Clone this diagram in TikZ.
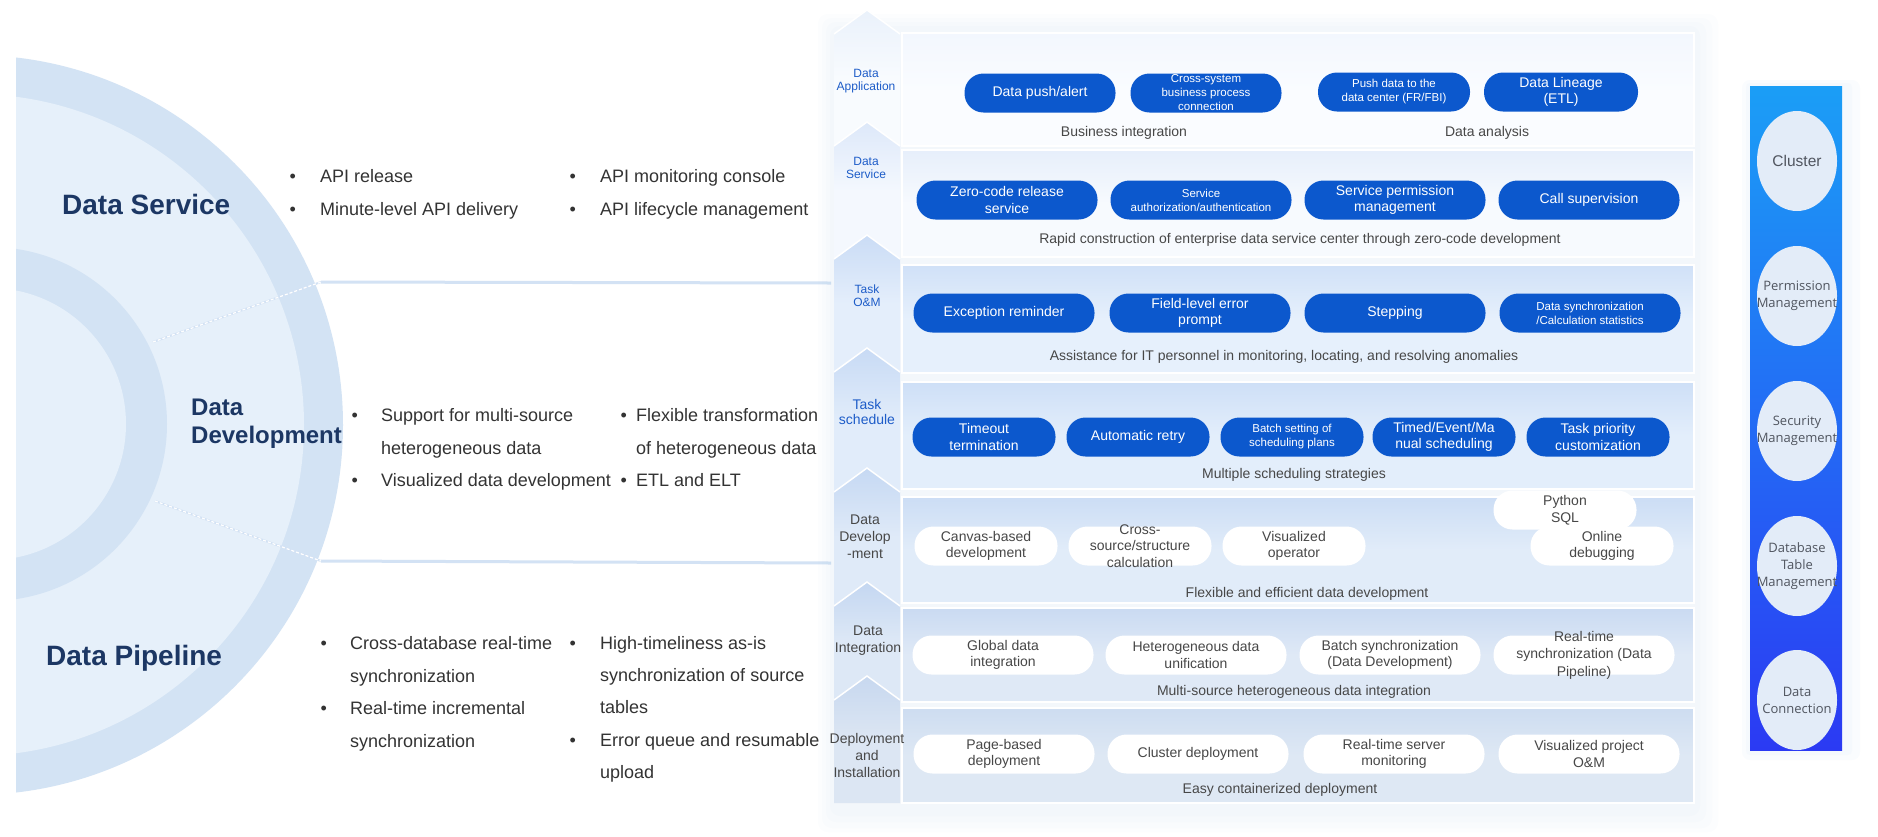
\documentclass[tikz,border=0pt]{standalone}
\usepackage{fontspec}
\setmainfont{Liberation Sans}
\newfontfamily\opensans{Open Sans}
\usepackage{xcolor}
\usepackage{tikz}
\usetikzlibrary{shapes.geometric}

\definecolor{navy}{HTML}{1C3764}
\definecolor{txt}{HTML}{333333}
\definecolor{gtxt}{HTML}{474747}
\definecolor{lblue}{HTML}{1D5CC8}
\definecolor{pillblue}{HTML}{0C58CD}
\definecolor{disc}{HTML}{E6F0FA}
\definecolor{ring}{HTML}{D3E3F4}
\definecolor{sepc}{HTML}{D3E2F4}
\definecolor{barTop}{HTML}{1B9EF6}
\definecolor{barBot}{HTML}{2B3AF3}
\definecolor{ovalc}{HTML}{E3ECF8}
\definecolor{ovaltxt}{HTML}{50555F}
\definecolor{glow}{HTML}{A9C6EE}
% label column
\definecolor{col1}{HTML}{F8FBFE}
\definecolor{col2}{HTML}{F4F8FE}
\definecolor{col3}{HTML}{E4EEFB}
\definecolor{col4}{HTML}{E1ECFA}
\definecolor{col5}{HTML}{DFEAF8}
\definecolor{col6}{HTML}{DDE8F6}
\definecolor{col7}{HTML}{DCE6F3}
% layer boxes
\definecolor{lay1}{HTML}{FAFCFF}
\definecolor{lay2}{HTML}{F7FAFE}
\definecolor{lay3}{HTML}{E6F0FC}
\definecolor{lay4}{HTML}{E3EEFB}
\definecolor{lay5}{HTML}{E1ECF9}
\definecolor{lay6}{HTML}{DFE9F6}
\definecolor{lay7}{HTML}{DEE8F4}

\begin{document}
\begin{tikzpicture}[x=1pt,y=-1pt]
  \tikzstyle{every node}=[inner sep=0pt]
  \tikzstyle{title}=[anchor=west, text=navy, font=\bfseries\fontsize{28}{30}\selectfont, text height=20pt, text depth=0pt]
  \tikzstyle{item}=[anchor=west, text=txt, font=\fontsize{18}{22}\selectfont, text height=13pt, text depth=0pt]
  \tikzstyle{bul}=[text=txt, font=\fontsize{18}{22}\selectfont, text height=13pt, text depth=0pt]
  \tikzset{bitem/.style={item, label={[bul, xshift=-#1]left:\textbullet}}, bitem/.default=23pt}
  \tikzstyle{lab}=[align=center, text=lblue, font=\fontsize{12}{13}\selectfont]
  \tikzstyle{glab}=[align=center, text=gtxt, font=\fontsize{14}{17}\selectfont]
  \tikzstyle{bpill}=[rectangle, rounded corners=19pt, fill=pillblue, text=white, minimum width=181pt, minimum height=39pt, align=center, font=\fontsize{14}{16.5}\selectfont]
  \tikzstyle{wpill}=[bpill, fill=white, text=gtxt]
  \tikzstyle{ptext}=[align=center, text=gtxt, font=\fontsize{14}{16.5}\selectfont]
  \tikzstyle{small}=[font=\fontsize{11.5}{14}\selectfont]
  \tikzstyle{narrow}=[minimum width=143pt]
  \tikzstyle{captxt}=[text=gtxt, font=\fontsize{14}{16}\selectfont]
  \tikzstyle{oval}=[ellipse, fill=ovalc, minimum width=80pt, minimum height=100pt]
  \tikzstyle{ovtext}=[align=center, text=ovaltxt, font=\opensans\fontsize{13}{17}\selectfont]
  \tikzstyle{chev}=[draw=white, line width=1.5pt]
  \tikzstyle{layer}=[draw=white, line width=2pt]
  \tikzstyle{sepline}=[draw=sepc, line width=3pt]
  \tikzstyle{cutline}=[draw=white, line width=1.2pt, dash pattern=on 3pt off 2pt]
  \tikzstyle{haze}=[fill=glow, opacity=.03, rounded corners=10pt]

  \useasboundingbox (0,0) rectangle (1878,836);
  \fill[white] (0,0) rectangle (1878,836);

  % rings on the left
  \begin{scope}
    \clip (16,0) rectangle (700,836);
    \fill[ring] (-27,425) circle (370);
    \fill[disc] (-27,425) circle (331);
    \fill[ring] (-10,424) circle (177);
    \fill[disc] (-10,424) circle (136);
  \end{scope}

  \coordinate (cut1) at (153,342);
  \coordinate (sep1) at (321,282);
  \coordinate (end1) at (831,283);
  \coordinate (cut2) at (155,501);
  \coordinate (sep2) at (321,561);
  \coordinate (end2) at (831,563);
  \draw[sepline] (sep1) -- (end1);
  \draw[sepline] (sep2) -- (end2);
  \draw[sepline, line width=2pt] (cut1) -- (sep1);
  \draw[sepline, line width=2pt] (cut2) -- (sep2);
  \draw[cutline] (cut1) -- (sep1);
  \draw[cutline] (cut2) -- (sep2);

  % product titles and features
  \node (dsTitle)[title] at (62,204) {Data Service};
  \node (ddTitle)[anchor=west, align=left, text=navy, font=\bfseries\fontsize{24}{28}\selectfont] at (191,424) {Data\\Development};
  \node (dpTitle)[title] at (46,655) {Data Pipeline};

  \node (apiRel)[bitem=24pt] at (320,176) {API release};
  \node (apiMin)[bitem=24pt] at (320,209) {Minute-level API delivery};
  \node (apiMon)[bitem=24pt] at (600,176) {API monitoring console};
  \node (apiLife)[bitem=24pt] at (600,209) {API lifecycle management};

  \node (multiSrc)[bitem] at (381,415) {Support for multi-source};
  \node (multiSrc2)[item] at (381,448) {heterogeneous data};
  \node (visDev)[bitem] at (381,480) {Visualized data development};
  \node (flexTr)[bitem=9pt] at (636,415) {Flexible transformation};
  \node (flexTr2)[item] at (636,448) {of heterogeneous data};
  \node (etl)[bitem=9pt] at (636,480) {ETL and ELT};

  \node (crossDb)[bitem] at (350,643) {Cross-database real-time};
  \node (crossDb2)[item] at (350,676) {synchronization};
  \node (rtInc)[bitem] at (350,708) {Real-time incremental};
  \node (rtInc2)[item] at (350,741) {synchronization};
  \node (asIs)[bitem=24pt] at (600,643) {High-timeliness as-is};
  \node (asIs2)[item] at (600,675) {synchronization of source};
  \node (asIs3)[item] at (600,707) {tables};
  \node (errQ)[bitem=24pt] at (600,740) {Error queue and resumable};
  \node (errQ2)[item] at (600,772) {upload};

  % soft glow behind the layer panel
  \fill[haze] (818,14) rectangle (1718,832);
  \fill[haze] (822,18) rectangle (1712,828);
  \fill[haze] (826,22) rectangle (1706,822);
  \fill[haze] (830,26) rectangle (1700,816);

  % label column
  \shade[top color=col1!94!pillblue, bottom color=col1, middle color=col1] (834,34) -- (867,10) -- (900,34) -- (900,146) -- (834,146) -- cycle;
  \draw[chev] (834,34) -- (867,10) -- (900,34);
  \shade[top color=col2!90!pillblue, bottom color=col2, middle color=col2] (834,146) -- (867,122) -- (900,146) -- (900,259) -- (834,259) -- cycle;
  \draw[chev] (834,146) -- (867,122) -- (900,146);
  \shade[top color=col3!88!pillblue, bottom color=col3, middle color=col3] (834,259) -- (867,235) -- (900,259) -- (900,372) -- (834,372) -- cycle;
  \draw[chev] (834,259) -- (867,235) -- (900,259);
  \shade[top color=col4!88!pillblue, bottom color=col4, middle color=col4] (834,372) -- (867,348) -- (900,372) -- (900,492) -- (834,492) -- cycle;
  \draw[chev] (834,372) -- (867,348) -- (900,372);
  \shade[top color=col5!88!pillblue, bottom color=col5, middle color=col5] (834,492) -- (867,468) -- (900,492) -- (900,606) -- (834,606) -- cycle;
  \draw[chev] (834,492) -- (867,468) -- (900,492);
  \shade[top color=col6!88!pillblue, bottom color=col6, middle color=col6] (834,606) -- (867,582) -- (900,606) -- (900,700) -- (834,700) -- cycle;
  \draw[chev] (834,606) -- (867,582) -- (900,606);
  \shade[top color=col7!90!pillblue, bottom color=col7, middle color=col7] (834,700) -- (867,676) -- (900,700) -- (900,803) -- (834,803) -- cycle;
  \draw[chev] (834,700) -- (867,676) -- (900,700);

  % layer boxes
  \shade[top color=lay1!97!pillblue, bottom color=lay1, middle color=lay1] (902,33) rectangle (1694,146);
  \draw[layer] (902,33) rectangle (1694,146);
  \shade[top color=lay2!93!pillblue, bottom color=lay2, middle color=lay2] (902,150) rectangle (1694,257);
  \draw[layer] (902,150) rectangle (1694,257);
  \shade[top color=lay3!90!pillblue, bottom color=lay3, middle color=lay3] (902,265) rectangle (1694,373);
  \draw[layer] (902,265) rectangle (1694,373);
  \shade[top color=lay4!90!pillblue, bottom color=lay4, middle color=lay4] (902,382) rectangle (1694,489);
  \draw[layer] (902,382) rectangle (1694,489);
  \shade[top color=lay5!90!pillblue, bottom color=lay5, middle color=lay5] (902,497) rectangle (1694,603);
  \draw[layer] (902,497) rectangle (1694,603);
  \shade[top color=lay6!90!pillblue, bottom color=lay6, middle color=lay6] (902,608) rectangle (1694,702);
  \draw[layer] (902,608) rectangle (1694,702);
  \shade[top color=lay7!92!pillblue, bottom color=lay7, middle color=lay7] (902,708) rectangle (1694,803);
  \draw[layer] (902,708) rectangle (1694,803);

  \node (labApp)[lab] at (866,81) {Data\\Application};
  \node (labSvc)[lab] at (866,168) {Data\\Service};
  \node (labOM)[lab] at (867,296) {Task\\O\&M};
  \node (labSched)[lab, font=\fontsize{14}{15.5}\selectfont] at (867,412) {Task\\schedule};
  \node (labDev)[glab] at (865,537) {Data\\Develop\\-ment};
  \node (labInt)[glab] at (868,641) {Data\\Integration};
  \node (labDep)[glab] at (867,755) {Deployment\\and\\Installation};

  % Data Application
  \node (push)[bpill, minimum width=151pt] at (1040,93) {Data push/alert};
  \node (crossSys)[bpill, small, minimum width=151pt] at (1206,93) {Cross-system\\business process\\connection};
  \node (pushDC)[bpill, small, minimum width=152pt] at (1394,92) {Push data to the\\data center (FR/FBI)};
  \node (lineage)[bpill, minimum width=154pt] at (1561,92) {Data Lineage\\(ETL)};
  \node (bizInt)[captxt] at (1124,133) {Business integration};
  \node (dataAna)[captxt] at (1487,133) {Data analysis};

  % Data Service
  \node (zeroCode)[bpill] at (1007,200) {Zero-code release\\service};
  \node (authSvc)[bpill, small] at (1201,200) {Service\\authorization/authentication};
  \node (permSvc)[bpill] at (1395,200) {Service permission\\management};
  \node (callSup)[bpill] at (1589,200) {Call supervision};
  \node (capSvc)[captxt] at (1300,240) {Rapid construction of enterprise data service center through zero-code development};

  % Task O&M
  \node (excRem)[bpill] at (1004,313) {Exception reminder};
  \node (fieldErr)[bpill] at (1200,313) {Field-level error\\prompt};
  \node (stepping)[bpill] at (1395,313) {Stepping};
  \node (syncStat)[bpill, small] at (1590,313) {Data synchronization\\/Calculation statistics};
  \node (capOM)[captxt] at (1284,357) {Assistance for IT personnel in monitoring, locating, and resolving anomalies};

  % Task schedule
  \node (timeout)[bpill, narrow] at (984,437) {Timeout\\termination};
  \node (retry)[bpill, narrow] at (1138,437) {Automatic retry};
  \node (batchPlan)[bpill, narrow, small] at (1292,437) {Batch setting of\\scheduling plans};
  \node (timedSched)[bpill, narrow] at (1444,437) {Timed/Event/Ma\\nual scheduling};
  \node (priority)[bpill, narrow] at (1598,437) {Task priority\\customization};
  \node (capSched)[captxt] at (1294,475) {Multiple scheduling strategies};

  % Data Development
  \node (canvas)[wpill, narrow] at (986,546) {Canvas-based\\development};
  \node (crossSrc)[wpill, narrow] at (1140,546) {};
  \node (crossSrcT)[ptext] at (crossSrc) {Cross-\\source/structure\\calculation};
  \node (visOp)[wpill, narrow] at (1294,546) {Visualized\\operator};
  \node (pySQL)[wpill, narrow] at (1565,510) {Python\\SQL};
  \node (online)[wpill, narrow] at (1602,546) {Online\\debugging};
  \node (capDev)[captxt] at (1307,594) {Flexible and efficient data development};

  % Data Integration
  \node (globalInt)[wpill] at (1003,655) {Global data\\integration};
  \node (heteroUni)[wpill] at (1196,655) {Heterogeneous data\\unification};
  \node (batchSync)[wpill] at (1390,655) {Batch synchronization\\(Data Development)};
  \node (rtSync)[wpill] at (1584,655) {};
  \node (rtSyncT)[ptext, font=\fontsize{14}{17.5}\selectfont] at (rtSync) {Real-time\\synchronization (Data\\Pipeline)};
  \node (capInt)[captxt] at (1294,692) {Multi-source heterogeneous data integration};

  % Deployment and Installation
  \node (pageDep)[wpill] at (1004,754) {Page-based\\deployment};
  \node (clusterDep)[wpill] at (1198,754) {Cluster deployment};
  \node (rtMon)[wpill] at (1394,754) {Real-time server\\monitoring};
  \node (visOM)[wpill] at (1589,754) {Visualized project\\O\&M};
  \node (capDep)[captxt] at (1280,790) {Easy containerized deployment};

  % side bar
  \fill[haze, opacity=.05, rounded corners=8pt] (1742,80) rectangle (1860,760);
  \fill[haze, opacity=.05, rounded corners=4pt] (1746,83) rectangle (1852,755);
  \shade[top color=barTop, bottom color=barBot] (1750,86) rectangle (1842,750);

  \node (cluster)[oval] at (1797,161) {};
  \node (clusterT)[ovtext, font=\fontsize{15.5}{17}\selectfont] at (cluster) {Cluster};
  \node (perm)[oval] at (1797,296) {};
  \node (permT)[ovtext] at (perm) {Permission\\Management};
  \node (secu)[oval] at (1797,431) {};
  \node (secuT)[ovtext] at (secu) {Security\\Management};
  \node (dbTable)[oval] at (1797,566) {};
  \node (dbTableT)[ovtext] at (dbTable) {Database\\Table\\Management};
  \node (dataConn)[oval] at (1797,700) {};
  \node (dataConnT)[ovtext] at (dataConn) {Data\\Connection};
\end{tikzpicture}
\end{document}
